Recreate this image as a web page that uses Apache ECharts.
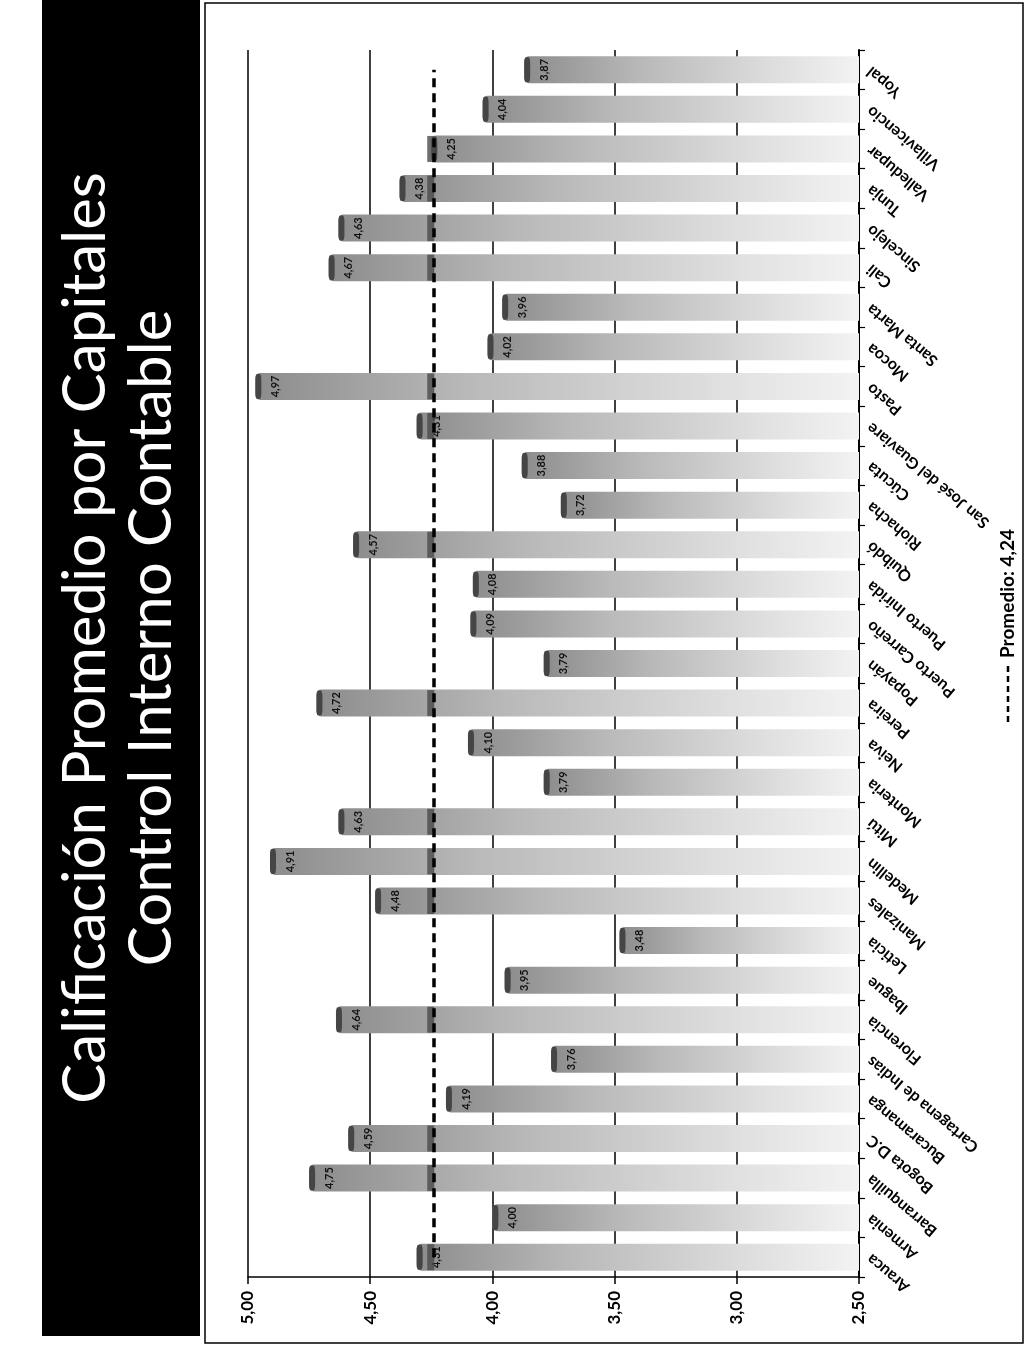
<!DOCTYPE html>
<html>
<head>
<meta charset="utf-8">
<script src="https://cdn.jsdelivr.net/npm/echarts@6/dist/echarts.min.js"></script>
<style>
  html, body { margin: 0; padding: 0; background: #fff; }
  #grafico { width: 1030px; height: 1353px; }
</style>
</head>
<body>
<div id="grafico"></div>
<script>
// Capitales, en el orden del eje de categorías (de abajo hacia arriba)
const categorias = [
  'Arauca', 'Armenia', 'Barranquilla', 'Bogota D.C', 'Bucaramanga',
  'Cartagena de Indias', 'Florencia', 'Ibague', 'Leticia', 'Manizales',
  'Medellin', 'Mitú', 'Monteria', 'Neiva', 'Pereira', 'Popayán',
  'Puerto Carreño', 'Puerto Inírida', 'Quibdó', 'Riohacha', 'Cúcuta',
  'San José del Guaviare', 'Pasto', 'Mocoa', 'Santa Marta', 'Cali',
  'Sincelejo', 'Tunja', 'Valledupar', 'Villavicencio', 'Yopal'
];

// Calificación promedio de control interno contable por capital
const calificaciones = [
  4.31, 4.00, 4.75, 4.59, 4.19,
  3.76, 4.64, 3.95, 3.48, 4.48,
  4.91, 4.63, 3.79, 4.10, 4.72, 3.79,
  4.09, 4.08, 4.57, 3.72, 3.88,
  4.31, 4.97, 4.02, 3.96, 4.67,
  4.63, 4.38, 4.25, 4.04, 3.87
];

// Promedio nacional
const promedio = 4.24;

// Escala del eje de calificación
const escalaMin = 2.5;
const escalaMax = 5;
const escalaPaso = 0.5;

const coma = v => Number(v).toFixed(2).replace('.', ',');

const grafico = echarts.init(document.getElementById('grafico'), null, { renderer: 'canvas' });

const degradadoBarra = new echarts.graphic.LinearGradient(0, 0, 1, 0, [
  { offset: 0, color: '#8c8c8c' },
  { offset: 0.35, color: '#b9b9b9' },
  { offset: 0.75, color: '#dedede' },
  { offset: 1, color: '#f3f3f3' }
]);

// Remate oscuro en el extremo de cada barra
const remates = calificaciones.map((v, i) => [v, i]);
// Franja oscura donde la barra supera el promedio
const franjasPromedio = calificaciones
  .map((v, i) => (v > promedio ? [promedio, i] : null))
  .filter(d => d !== null);

const opcion = {
  animation: false,
  backgroundColor: '#ffffff',
  grid: { left: 248, right: 171, top: 50, bottom: 76 },
  xAxis: {
    type: 'value',
    inverse: true,
    min: escalaMin,
    max: escalaMax,
    interval: escalaPaso,
    axisLine: { show: true, lineStyle: { color: '#000', width: 1.5 } },
    axisTick: { show: true, length: 7, lineStyle: { color: '#000', width: 1.5 } },
    axisLabel: {
      rotate: 90,
      formatter: coma,
      color: '#000',
      fontFamily: 'Lato',
      fontWeight: 'bold',
      fontSize: 17,
      margin: 14
    },
    splitLine: { show: true, lineStyle: { color: '#000', width: 1.5 } }
  },
  yAxis: {
    type: 'category',
    data: categorias,
    position: 'right',
    axisLine: { show: true, lineStyle: { color: '#000', width: 2 } },
    axisTick: { show: true, length: 6, lineStyle: { color: '#000', width: 1.2 } },
    axisLabel: {
      interval: 0,
      rotate: 140,
      color: '#000',
      fontFamily: 'Lato',
      fontWeight: 'bold',
      fontSize: 16,
      margin: 10
    }
  },
  series: [
    {
      name: 'Calificación',
      type: 'bar',
      data: calificaciones,
      barWidth: 27,
      z: 2,
      itemStyle: { color: degradadoBarra, borderRadius: [5, 0, 0, 5] },
      label: {
        show: true,
        position: 'insideLeft',
        distance: 20,
        rotate: 90,
        align: 'center',
        verticalAlign: 'middle',
        formatter: p => coma(p.value),
        fontFamily: 'Lato',
        fontWeight: 'bold',
        fontSize: 11,
        color: '#111'
      }
    },
    {
      name: 'Remate',
      type: 'scatter',
      data: remates,
      symbol: 'roundRect',
      symbolSize: [6, 25],
      symbolOffset: [3, 0],
      z: 3,
      silent: true,
      itemStyle: { color: '#333' }
    },
    {
      name: 'Promedio',
      type: 'scatter',
      data: franjasPromedio,
      symbol: 'rect',
      symbolSize: [7, 26],
      symbolOffset: [-3, 0],
      z: 4,
      silent: true,
      itemStyle: { color: '#4a4a4a' },
      markLine: {
        silent: true,
        symbol: 'none',
        label: { show: false },
        lineStyle: { color: '#000', width: 3.5, type: [9, 6] },
        data: [[
          { coord: [promedio, 0] },
          { coord: [promedio, categorias.length - 1] }
        ]]
      }
    }
  ],
  graphic: [
    {
      type: 'rect',
      z: -10,
      shape: { x: 205, y: 3, width: 818, height: 1340 },
      style: { fill: null, stroke: '#000', lineWidth: 1.5 }
    },
    {
      type: 'rect',
      shape: { x: 42, y: 0, width: 158, height: 1336 },
      style: { fill: '#000' }
    },
    {
      type: 'text',
      x: 86,
      y: 638,
      rotation: Math.PI / 2,
      style: {
        text: 'Calificación Promedio por Capitales',
        fill: '#fff',
        font: '60px Lato',
        align: 'center',
        verticalAlign: 'middle'
      }
    },
    {
      type: 'text',
      x: 152,
      y: 638,
      rotation: Math.PI / 2,
      style: {
        text: 'Control Interno Contable',
        fill: '#fff',
        font: '60px Lato',
        align: 'center',
        verticalAlign: 'middle'
      }
    },
    {
      type: 'group',
      x: 1008,
      y: 722,
      rotation: Math.PI / 2,
      children: [
        {
          type: 'line',
          shape: { x1: 0, y1: 0, x2: 58, y2: 0 },
          style: { stroke: '#000', lineWidth: 2.5, lineDash: [6, 4] }
        },
        {
          type: 'text',
          x: 64,
          y: 0,
          style: {
            text: 'Promedio: ' + coma(promedio),
            fill: '#000',
            font: 'bold 19px Lato',
            align: 'left',
            verticalAlign: 'middle'
          }
        }
      ]
    }
  ]
};

grafico.setOption(opcion);
</script>
</body>
</html>
